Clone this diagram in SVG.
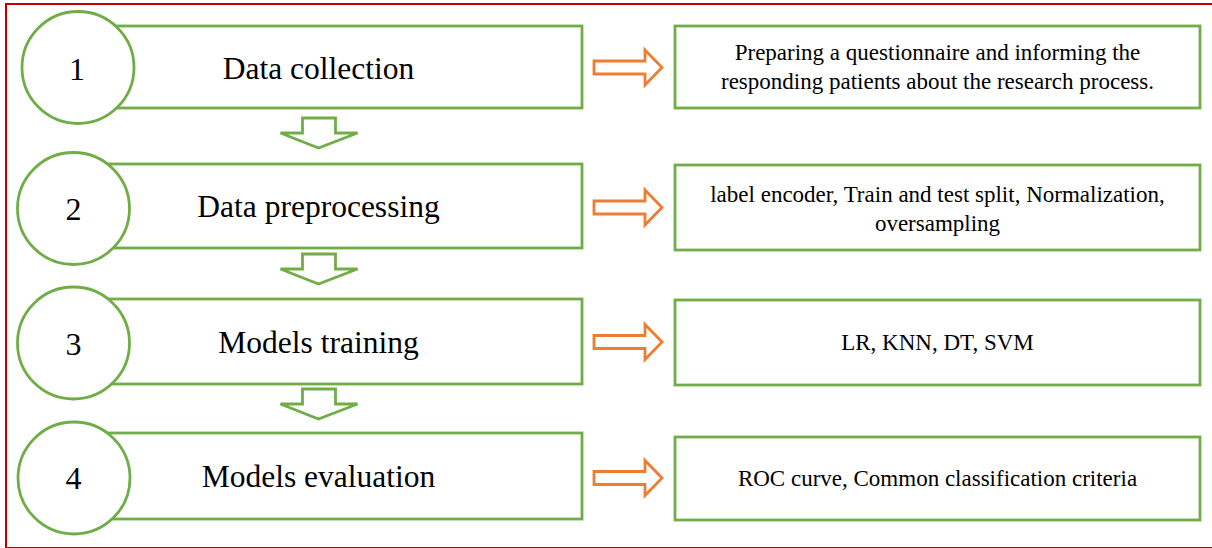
<svg xmlns="http://www.w3.org/2000/svg" width="1212" height="548" viewBox="0 0 1212 548">
<defs>
<style>
.frame{fill:none;stroke:#C00000;stroke-width:2}
.box{fill:#fff;stroke:#70AD47;stroke-width:2.8}
.circ{fill:#fff;stroke:#70AD47;stroke-width:2.8}
.down{fill:#fff;stroke:#70AD47;stroke-width:2.8;stroke-linejoin:miter}
.right{fill:#fff;stroke:#ED7D31;stroke-width:2.8;stroke-linejoin:miter}
.main{font-family:"Liberation Serif","Times New Roman",serif;font-size:31.5px;fill:#000;text-anchor:middle}
.num{font-family:"Liberation Serif","Times New Roman",serif;font-size:32px;fill:#000;text-anchor:middle}
.small{font-family:"Liberation Serif","Times New Roman",serif;font-size:23px;fill:#000;text-anchor:middle}
</style>
<path id="dn" d="M-16,0 H17 V15 H39 L0,30 L-38,15 H-16 Z"/>
<path id="rt" d="M0,-6.5 H51 V-17.5 L68,0 L51,17.5 V6.5 H0 Z"/>
</defs>
<rect class="frame" x="6" y="4" width="1220" height="544"/>

<g id="step1">
<rect class="box" x="78" y="26" width="504" height="82"/>
<circle class="circ" cx="78" cy="67.5" r="56"/>
<text class="num" x="77" y="80">1</text>
<text class="main" x="318.5" y="79">Data collection</text>
</g>
<g id="step2">
<rect class="box" x="74" y="164" width="508" height="84"/>
<circle class="circ" cx="73.5" cy="208.5" r="56"/>
<text class="num" x="73.5" y="220">2</text>
<text class="main" x="318.5" y="217">Data preprocessing</text>
</g>
<g id="step3">
<rect class="box" x="74" y="299" width="508" height="85"/>
<circle class="circ" cx="73.5" cy="343" r="56"/>
<text class="num" x="73.5" y="355">3</text>
<text class="main" x="318.5" y="353">Models training</text>
</g>
<g id="step4">
<rect class="box" x="74" y="433" width="508" height="86"/>
<circle class="circ" cx="74" cy="478" r="56"/>
<text class="num" x="73.5" y="489">4</text>
<text class="main" x="318.5" y="487">Models evaluation</text>
</g>

<g id="detail1">
<rect class="box" x="675" y="26" width="525" height="82"/>
<text class="small" x="937.5" y="60">Preparing a questionnaire and informing the</text>
<text class="small" x="937.5" y="89">responding patients about the research process.</text>
</g>
<g id="detail2">
<rect class="box" x="675" y="165" width="525" height="85"/>
<text class="small" x="937.5" y="202">label encoder, Train and test split, Normalization,</text>
<text class="small" x="937.5" y="231">oversampling</text>
</g>
<g id="detail3">
<rect class="box" x="675" y="300" width="525" height="85"/>
<text class="small" x="937.5" y="350">LR, KNN, DT, SVM</text>
</g>
<g id="detail4">
<rect class="box" x="675" y="437" width="525" height="83"/>
<text class="small" x="937.5" y="486">ROC curve, Common classification criteria</text>
</g>

<g id="connectors">
<use href="#dn" class="down" x="318.5" y="118"/>
<use href="#dn" class="down" x="318.5" y="254"/>
<use href="#dn" class="down" x="318.5" y="389"/>
<use href="#rt" class="right" x="594" y="67.5"/>
<use href="#rt" class="right" x="594" y="207.5"/>
<use href="#rt" class="right" x="594" y="342"/>
<use href="#rt" class="right" x="594" y="478"/>
</g>
</svg>
